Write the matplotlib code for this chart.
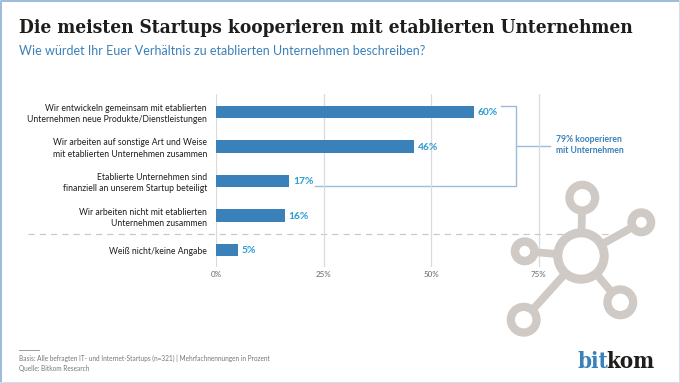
import matplotlib
matplotlib.use('Agg')
import matplotlib.pyplot as plt
from matplotlib.patches import Circle

W, H = 680, 383

# data
categories = ['Wir entwickeln gemeinsam mit etablierten\nUnternehmen neue Produkte/Dienstleistungen',
              'Wir arbeiten auf sonstige Art und Weise\nmit etablierten Unternehmen zusammen',
              'Etablierte Unternehmen sind\nfinanziell an unserem Startup beteiligt',
              'Wir arbeiten nicht mit etablierten\nUnternehmen zusammen',
              'Weiß nicht/keine Angabe']
values = [60, 46, 17, 16, 5]
ticks = [0, 25, 50, 75]
tick_labels = ['0%', '25%', '50%', '75%']

title = 'Die meisten Startups kooperieren mit etablierten Unternehmen'
subtitle = 'Wie würdet Ihr Euer Verhältnis zu etablierten Unternehmen beschreiben?'
note = 'Basis: Alle befragten IT- und Internet-Startups (n=321) | Mehrfachnennungen in Prozent\nQuelle: Bitkom Research'
callout = '79% kooperieren\nmit Unternehmen'

BLUE = '#3a80b9'
VALUE_BLUE = '#2a9bd3'
DARK = '#1d1d1b'
GREY = '#d9dcdf'
ICON = '#cfcac5'

plt.rcParams['font.family'] = ['Lato', 'DejaVu Sans']

fig = plt.figure(figsize=(W / 100, H / 100), dpi=100)

# overlay in pixel coordinates for the decoration
bg = fig.add_axes([0, 0, 1, 1])
bg.set_xlim(0, W)
bg.set_ylim(H, 0)
bg.axis('off')

# chart axes, 4.3 px per percent from x=216, rows 34.5 px apart from y=112
left, right, top, bottom = 216, 560, 94, 267
ax = fig.add_axes([left / W, 1 - bottom / H, (right - left) / W, (bottom - top) / H])
ax.patch.set_alpha(0)
ax.set_xlim(0, 80)
ax.set_ylim(4.49, -0.52)
for s in ax.spines.values():
    s.set_visible(False)
ax.grid(axis='x', color=GREY, linewidth=0.9)
ax.set_axisbelow(True)
ax.tick_params(length=0)
ax.set_xticks(ticks)
ax.set_xticklabels(tick_labels, fontsize=5.8, color='#666666')
ax.tick_params(axis='x', pad=3)
ax.set_yticks(range(len(categories)))
ax.set_yticklabels(categories, fontsize=6.2, color=DARK, linespacing=1.3, ha='right')
ax.tick_params(axis='y', pad=6.5)

ax.barh(range(len(values)), values, height=0.36, color=BLUE)
for i, v in enumerate(values):
    ax.text(v + 0.9, i + 0.02, f'{v}%', va='center', ha='left', fontsize=7.4,
            fontweight='bold', color=VALUE_BLUE)

# frame
bg.plot([1, 1, W - 0.5], [H, 0.5, 0.5], color='#9dbcd9', linewidth=1.4)
bg.plot([W - 0.5, W - 0.5, 1], [0.5, H - 0.5, H - 0.5], color='#cfdfee', linewidth=1.4)

# title block
bg.text(19, 28, title, fontsize=13.7, fontweight='bold', family='DejaVu Serif', stretch='condensed',
        color=DARK, va='center', ha='left')
bg.text(19, 51, subtitle, fontsize=9, color=BLUE, va='center', ha='left')

# bracket
bg.plot([501, 516, 516, 315], [106, 106, 186, 186], color='#9dbcd9', linewidth=1)
bg.plot([516, 550], [146, 146], color='#9dbcd9', linewidth=1)
bg.text(556, 145, callout, fontsize=6.2, fontweight='bold', color=BLUE, va='center',
        ha='left', linespacing=1.35)

# dashed separator
bg.plot([28, 625], [233.5, 233.5], color='#c9c9c9', linewidth=0.9, dashes=(5, 4))

# network icon
hub = (581, 256)
nodes = [(582.3, 197.7, 16.3, 8), (641.3, 222.3, 13.3, 4.7), (524.7, 251.3, 13.3, 4.7),
         (620.3, 302.3, 16.3, 8), (523.7, 319.7, 16.3, 8)]
top_ax = fig.add_axes([0, 0, 1, 1])
top_ax.set_xlim(0, W)
top_ax.set_ylim(H, 0)
top_ax.axis('off')
top_ax.patch.set_alpha(0)
for x, y, r, r2 in nodes:
    top_ax.plot([hub[0], x], [hub[1], y], color=ICON, linewidth=5.6, solid_capstyle='butt', zorder=1)
top_ax.add_patch(Circle(hub, 27, color=ICON, zorder=2))
top_ax.add_patch(Circle(hub, 18, color='white', zorder=3))
for x, y, r, r2 in nodes:
    top_ax.add_patch(Circle((x, y), r, color=ICON, zorder=2))
    top_ax.add_patch(Circle((x, y), r2, color='white', zorder=3))

# footer
top_ax.plot([19, 38.5], [350, 350], color='#999999', linewidth=0.7)
top_ax.text(19, 363, note, fontsize=4.7, color='#777777', va='center', ha='left', linespacing=1.5)

# logo
top_ax.text(578, 368, 'bit', fontsize=16, fontweight='bold', family='DejaVu Serif', stretch='condensed',
            color=BLUE, va='baseline', ha='left')
top_ax.text(655, 368, 'kom', fontsize=16, fontweight='bold', family='DejaVu Serif', stretch='condensed',
            color=DARK, va='baseline', ha='right')

fig.savefig('out.png', dpi=100)
